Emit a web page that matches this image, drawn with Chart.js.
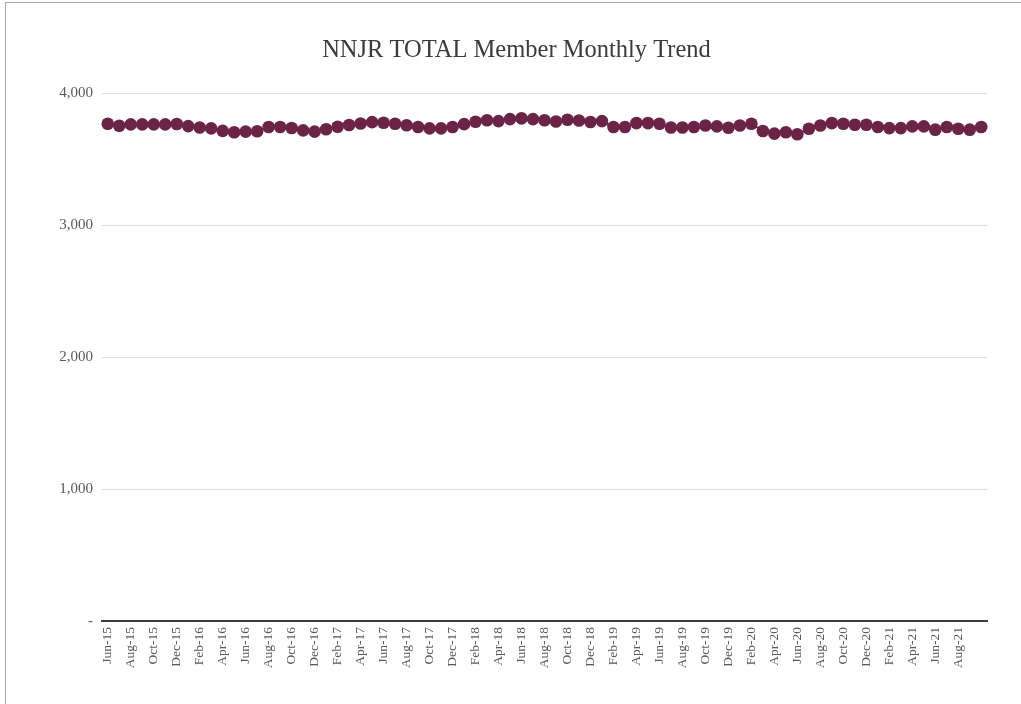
<!DOCTYPE html>
<html>
<head>
<meta charset="utf-8">
<script src="https://cdn.jsdelivr.net/npm/chart.js@4.4.1/dist/chart.umd.min.js"></script>
<style>
body { margin: 0; background: #fff; }
#frame { position: absolute; left: 5px; top: 2px; width: 1016px; height: 702px; border-left: 1px solid #a8a8a8; border-top: 1px solid #a8a8a8; }
#wrap { position: absolute; left: 0; top: 0; width: 1021px; height: 704px; }
</style>
</head>
<body>
<div id="frame"></div>
<div id="wrap"><canvas id="memberChart"></canvas></div>
<script>
const months = [
"Jun-15","Jul-15","Aug-15","Sep-15","Oct-15","Nov-15","Dec-15","Jan-16","Feb-16","Mar-16","Apr-16","May-16",
"Jun-16","Jul-16","Aug-16","Sep-16","Oct-16","Nov-16","Dec-16","Jan-17","Feb-17","Mar-17","Apr-17","May-17",
"Jun-17","Jul-17","Aug-17","Sep-17","Oct-17","Nov-17","Dec-17","Jan-18","Feb-18","Mar-18","Apr-18","May-18",
"Jun-18","Jul-18","Aug-18","Sep-18","Oct-18","Nov-18","Dec-18","Jan-19","Feb-19","Mar-19","Apr-19","May-19",
"Jun-19","Jul-19","Aug-19","Sep-19","Oct-19","Nov-19","Dec-19","Jan-20","Feb-20","Mar-20","Apr-20","May-20",
"Jun-20","Jul-20","Aug-20","Sep-20","Oct-20","Nov-20","Dec-20","Jan-21","Feb-21","Mar-21","Apr-21","May-21",
"Jun-21","Jul-21","Aug-21","Sep-21","Oct-21"
];

const members = [
3770,3755,3765,3765,3765,3765,3768,3752,3742,3735,3716,3705,
3710,3713,3745,3745,3738,3720,3710,3728,3747,3760,3772,3782,
3778,3770,3758,3745,3735,3735,3745,3767,3785,3797,3790,3805,
3811,3805,3797,3787,3800,3795,3783,3790,3745,3745,3775,3775,
3770,3742,3742,3745,3757,3750,3740,3757,3770,3715,3695,3705,
3690,3732,3757,3775,3770,3762,3762,3745,3737,3737,3750,3750,
3725,3745,3732,3725,3745
];

const yTicks = [0, 1000, 2000, 3000, 4000];

const serif = "'Liberation Serif', 'Times New Roman', serif";
const maroon = "#6b2447";

new Chart(document.getElementById("memberChart"), {
type: "line",
data: {
labels: months,
datasets: [{
label: "Members",
data: members,
borderColor: maroon,
borderWidth: 2,
backgroundColor: maroon,
pointBackgroundColor: maroon,
pointBorderWidth: 0,
pointRadius: 6.3,
tension: 0
}]
},
options: {
responsive: true,
maintainAspectRatio: false,
animation: false,
// left padding balances the right one so the title centres like the original
layout: { padding: { left: 46, right: 34, top: 0, bottom: 0 } },
plugins: {
legend: { display: false },
tooltip: { enabled: false },
title: {
display: true,
text: "NNJR TOTAL Member Monthly Trend",
color: "#3a3a3a",
font: { family: serif, size: 24.5, weight: "normal" },
padding: { top: 36, bottom: 28 }
}
},
scales: {
x: {
offset: true,
grid: { display: false, drawTicks: false },
border: { display: true, color: "#3d3d3d", width: 2 },
ticks: {
autoSkip: false,
minRotation: 90,
maxRotation: 90,
padding: 6,
color: "#595959",
font: { family: serif, size: 13.5 },
callback: function (val, i) {
return (i % 2 === 0 && i < months.length - 1) ? months[i] : "";
}
},
afterFit: function (scale) { scale.height = 83; }
},
y: {
min: 0,
max: 4000,
afterBuildTicks: function (scale) {
scale.ticks = yTicks.map(v => ({ value: v }));
},
grid: { color: "#dcdcdc", drawTicks: false },
border: { display: false },
ticks: {
padding: 9,
color: "#595959",
font: { family: serif, size: 15 },
callback: function (v) { return v === 0 ? "-" : v.toLocaleString("en-US"); }
},
afterFit: function (scale) { scale.width = 56; }
}
}
}
});
</script>
</body>
</html>
